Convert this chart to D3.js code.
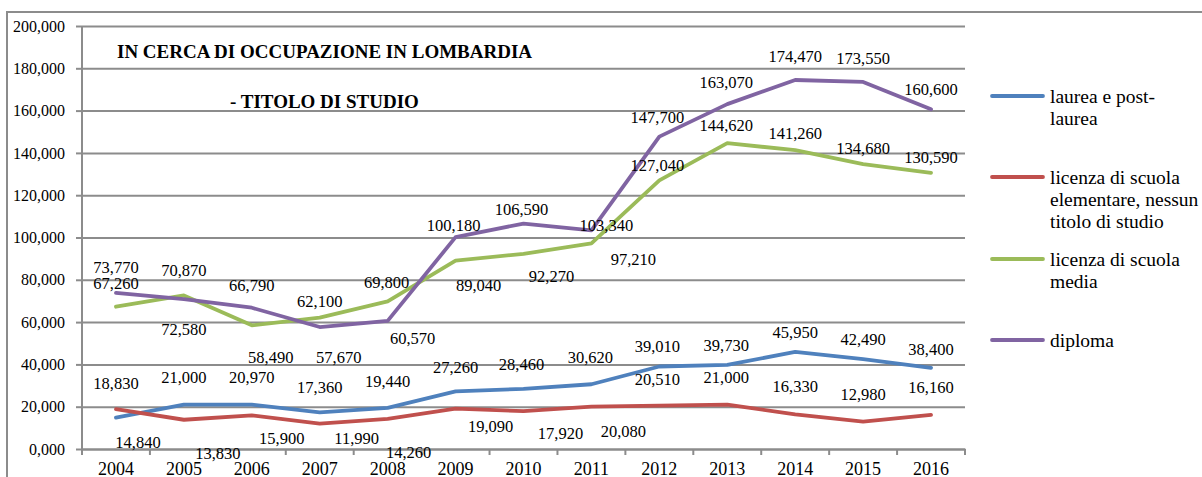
<!DOCTYPE html>
<html>
<head>
<meta charset="utf-8">
<script src="https://cdn.jsdelivr.net/npm/d3@7"></script>
</head>
<body style="margin:0">
<div id="chart"></div>
<script>
const years = ["2004", "2005", "2006", "2007", "2008", "2009", "2010", "2011", "2012", "2013", "2014", "2015", "2016"];

const laurea = [14840, 21000, 20970, 17360, 19440, 27260, 28460, 30620, 39010, 39730, 45950, 42490, 38400];
const elementare = [18830, 13830, 15900, 11990, 14260, 19090, 17920, 20080, 20510, 21000, 16330, 12980, 16160];
const media = [67260, 72580, 58490, 62100, 69800, 89040, 92270, 97210, 127040, 144620, 141260, 134680, 130590];
const diploma = [73770, 70870, 66790, 57670, 60570, 100180, 106590, 103340, 147700, 163070, 174470, 173550, 160600];

const yTicks = [0, 20000, 40000, 60000, 80000, 100000, 120000, 140000, 160000, 180000, 200000];
const yTickLabels = ["0,000", "20,000", "40,000", "60,000", "80,000", "100,000", "120,000", "140,000", "160,000", "180,000", "200,000"];

const seriesNames = [
  ["laurea e post-", "laurea"],
  ["licenza di scuola", "elementare, nessun", "titolo di studio"],
  ["licenza di scuola", "media"],
  ["diploma"]
];

// where each data label sits, relative to its point [dx, dy]
const shiftLaurea = [[22, 25], [0, -27], [0, -27], [0, -25], [0, -27], [0, -24], [-2, -25], [-1, -27], [-2, -20], [-1, -20], [0, -20], [0, -20], [0, -19]];
const shiftElementare = [[0, -26], [34, 33], [30, 23], [37, 15], [21, 33], [35, 18], [37, 22], [32, 25], [-2, -26], [-1, -27], [0, -28], [0, -27], [0, -28]];
const shiftMedia = [[0, -24], [0, 34], [19, 32], [0, -16], [-1, -19], [23, 25], [28, 22], [42, 16], [-2, -15], [-1, -18], [0, -17], [0, -16], [0, -16]];
const shiftDiploma = [[0, -26], [0, -29], [0, -23], [19, 30], [25, 17], [-2, -12], [-2, -14], [15, -5], [-2, -19], [-1, -22], [0, -24], [0, -24], [0, -20]];

const colors = ["#4f81bd", "#c0504d", "#9bbb59", "#8064a2"];
const font = "Liberation Serif";

const series = [laurea, elementare, media, diploma].map((values, k) => ({
  names: seriesNames[k],
  color: colors[k],
  shift: [shiftLaurea, shiftElementare, shiftMedia, shiftDiploma][k],
  points: values.map((v, i) => ({ year: years[i], value: v }))
}));

const W = 1202, H = 477;
const plot = { left: 82, right: 965, top: 26, bottom: 449 };
const grey = "#8c8c8c";

const svg = d3.select("#chart").append("svg")
  .attr("width", W)
  .attr("height", H)
  .attr("font-family", font)
  .style("display", "block");

// outer frame
svg.append("path")
  .attr("d", `M7,${H} L7,12 L${W},12`)
  .attr("fill", "none")
  .attr("stroke", grey)
  .attr("stroke-width", 2);

const x = d3.scaleBand()
  .domain(years)
  .range([plot.left, plot.right])
  .padding(0);

const y = d3.scaleLinear()
  .domain([0, 200000])
  .range([plot.bottom, plot.top]);

const cx = d => x(d.year) + x.bandwidth() / 2;

// gridlines
svg.append("g")
  .attr("transform", `translate(${plot.left},0)`)
  .call(d3.axisLeft(y).tickValues(yTicks).tickSize(-(plot.right - plot.left)).tickFormat(""))
  .call(g => g.select(".domain").remove())
  .call(g => g.selectAll("line").attr("stroke", grey).attr("stroke-width", 2));

// y axis
svg.append("g")
  .attr("transform", `translate(${plot.left},0)`)
  .call(d3.axisLeft(y).tickValues(yTicks).tickSize(6).tickPadding(11)
    .tickFormat((d, i) => yTickLabels[i]))
  .attr("font-family", font)
  .attr("font-size", 16)
  .call(g => g.select(".domain").attr("stroke", grey).attr("stroke-width", 2)
    .attr("d", `M0,${plot.top}V${plot.bottom + 6}`))
  .call(g => g.selectAll("line").attr("stroke", grey).attr("stroke-width", 2))
  .call(g => g.selectAll("text").attr("font-family", font).attr("fill", "#000"));

// x axis
const xAxis = svg.append("g")
  .attr("transform", `translate(0,${plot.bottom})`)
  .call(d3.axisBottom(x).tickSize(0).tickPadding(13))
  .attr("font-family", font)
  .attr("font-size", 18)
  .call(g => g.select(".domain").attr("stroke", grey).attr("stroke-width", 2))
  .call(g => g.selectAll("text").attr("font-family", font).attr("fill", "#000"));

// tick marks between categories
xAxis.selectAll("line.sep")
  .data(d3.range(years.length + 1))
  .join("line")
  .attr("class", "sep")
  .attr("x1", i => plot.left + i * x.step())
  .attr("x2", i => plot.left + i * x.step())
  .attr("y1", 0)
  .attr("y2", 6)
  .attr("stroke", grey)
  .attr("stroke-width", 2);

// lines
const line = d3.line()
  .x(cx)
  .y(d => y(d.value));

svg.append("g")
  .selectAll("path")
  .data(series)
  .join("path")
  .attr("d", s => line(s.points))
  .attr("fill", "none")
  .attr("stroke", s => s.color)
  .attr("stroke-width", 3.8)
  .attr("stroke-linejoin", "round")
  .attr("stroke-linecap", "round");

// data labels
const fmt = d3.format(",");
series.forEach(s => {
  svg.append("g")
    .selectAll("text")
    .data(s.points)
    .join("text")
    .attr("x", (d, i) => cx(d) + s.shift[i][0])
    .attr("y", (d, i) => y(d.value) + s.shift[i][1])
    .attr("dy", "0.35em")
    .attr("text-anchor", "middle")
    .attr("font-family", font)
    .attr("font-size", 16.5)
    .text(d => fmt(d.value));
});

// title
const title = svg.append("g")
  .attr("font-family", font)
  .attr("font-weight", "bold")
  .attr("font-size", 19);

title.append("text")
  .attr("x", 117)
  .attr("y", 58)
  .text("IN CERCA DI OCCUPAZIONE IN LOMBARDIA");

title.append("text")
  .attr("x", 230)
  .attr("y", 108)
  .text("- TITOLO DI STUDIO");

// legend
const legendY = [96, 177, 259, 340];
const legend = svg.append("g")
  .selectAll("g")
  .data(series)
  .join("g")
  .attr("transform", (s, i) => `translate(992,${legendY[i]})`);

legend.append("line")
  .attr("x1", 0)
  .attr("x2", 51)
  .attr("stroke", s => s.color)
  .attr("stroke-width", 3.8)
  .attr("stroke-linecap", "round");

legend.append("text")
  .attr("x", 58)
  .attr("y", 7)
  .attr("font-family", font)
  .attr("font-size", 19.5)
  .selectAll("tspan")
  .data(s => s.names)
  .join("tspan")
  .attr("x", 58)
  .attr("dy", (d, i) => i === 0 ? 0 : 22)
  .text(d => d);
</script>
</body>
</html>
